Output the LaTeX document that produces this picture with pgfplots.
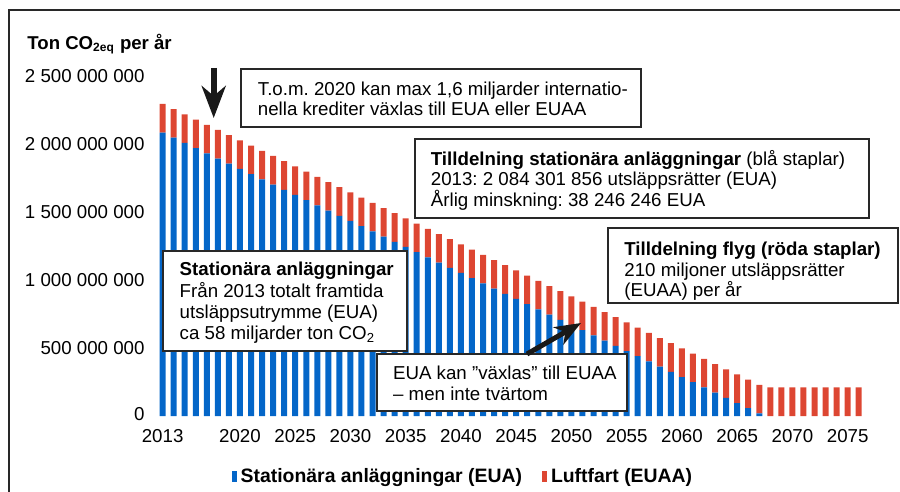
\documentclass[border=0pt]{standalone}
\usepackage{fontspec}
\setmainfont{Liberation Sans}
\usepackage{pgfplots}
\pgfplotsset{compat=1.18}
\usetikzlibrary{arrows.meta}
\definecolor{euablue}{RGB}{4,102,200}
\definecolor{euared}{RGB}{221,70,50}
\definecolor{frame}{RGB}{40,40,40}
\frenchspacing
\begin{document}
\begin{tikzpicture}[font=\fontsize{9.35}{10.35}\selectfont]
\useasboundingbox (0,0) rectangle (450pt,-246pt);
\begin{axis}[
  at={(75.78pt,-208pt)}, anchor=south west,
  scale only axis, width=359.1pt, height=170pt,
  xmin=2012, xmax=2077, ymin=0, ymax=2.5e9,
  enlargelimits=false, scaled y ticks=false,
  ybar stacked, bar width=3pt,
  axis line style={draw=none},
  major tick length=0pt,
  xtick={2013,2020,2025,2030,2035,2040,2045,2050,2055,2060,2065,2070,2075},
  xticklabels={2013,2020,2025,2030,2035,2040,2045,2050,2055,2060,2065,2070,2075},
  ytick={0,5e8,1e9,1.5e9,2e9,2.5e9},
  yticklabels={\raisebox{2.5pt}{0},500 000 000,1 000 000 000,1 500 000 000,2 000 000 000,2 500 000 000},
  xticklabel style={anchor=north, inner sep=0pt, yshift=-6.5pt},
  yticklabel style={anchor=east, inner sep=0pt, xshift=-3.3pt},
  legend style={at={(axis description cs:0.111,-0.179)}, anchor=west, draw=none, fill=none,
    inner sep=0pt, font=\fontsize{9.7}{11}\selectfont\bfseries,
    /tikz/every even column/.append style={column sep=8pt}},
  legend columns=2,
  legend image code/.code={\fill (0pt,-2.75pt) rectangle (2.5pt,2.75pt);},
]
\addplot[fill=euablue, draw=none] coordinates {
(2013,2084301856) (2014,2046055610) (2015,2007809364) (2016,1969563118)
(2017,1931316872) (2018,1893070626) (2019,1854824380) (2020,1816578134)
(2021,1778331888) (2022,1740085642) (2023,1701839396) (2024,1663593150)
(2025,1625346904) (2026,1587100658) (2027,1548854412) (2028,1510608166)
(2029,1472361920) (2030,1434115674) (2031,1395869428) (2032,1357623182)
(2033,1319376936) (2034,1281130690) (2035,1242884444) (2036,1204638198)
(2037,1166391952) (2038,1128145706) (2039,1089899460) (2040,1051653214)
(2041,1013406968) (2042,975160722) (2043,936914476) (2044,898668230)
(2045,860421984) (2046,822175738) (2047,783929492) (2048,745683246)
(2049,707437000) (2050,669190754) (2051,630944508) (2052,592698262)
(2053,554452016) (2054,516205770) (2055,477959524) (2056,439713278)
(2057,401467032) (2058,363220786) (2059,324974540) (2060,286728294)
(2061,248482048) (2062,210235802) (2063,171989556) (2064,133743310)
(2065,95497064) (2066,57250818) (2067,19004572) (2068,0)
(2069,0) (2070,0) (2071,0) (2072,0) (2073,0) (2074,0) (2075,0) (2076,0)
};
\addlegendentry{Stationära anläggningar (EUA)}
\addplot[fill=euared, draw=none] coordinates {
(2013,210000000) (2014,210000000) (2015,210000000) (2016,210000000)
(2017,210000000) (2018,210000000) (2019,210000000) (2020,210000000)
(2021,210000000) (2022,210000000) (2023,210000000) (2024,210000000)
(2025,210000000) (2026,210000000) (2027,210000000) (2028,210000000)
(2029,210000000) (2030,210000000) (2031,210000000) (2032,210000000)
(2033,210000000) (2034,210000000) (2035,210000000) (2036,210000000)
(2037,210000000) (2038,210000000) (2039,210000000) (2040,210000000)
(2041,210000000) (2042,210000000) (2043,210000000) (2044,210000000)
(2045,210000000) (2046,210000000) (2047,210000000) (2048,210000000)
(2049,210000000) (2050,210000000) (2051,210000000) (2052,210000000)
(2053,210000000) (2054,210000000) (2055,210000000) (2056,210000000)
(2057,210000000) (2058,210000000) (2059,210000000) (2060,210000000)
(2061,210000000) (2062,210000000) (2063,210000000) (2064,210000000)
(2065,210000000) (2066,210000000) (2067,210000000) (2068,210000000)
(2069,210000000) (2070,210000000) (2071,210000000) (2072,210000000)
(2073,210000000) (2074,210000000) (2075,210000000) (2076,210000000)
};
\addlegendentry{Luftfart (EUAA)}
\end{axis}
\begin{scope}[x=0.5pt, y=-0.5pt]
  % outer frame
  \draw[frame, line width=1pt] (8.5,492) -- (8.5,10.5) -- (900,10.5);
  % title
  \node[anchor=base west, inner sep=0pt, font=\fontsize{9.3}{11}\selectfont\bfseries] at (27,49.5) {Ton CO\textsubscript{\fontsize{6}{7}\selectfont 2eq} per år};
  % boxes
  \tikzset{bx/.style={draw=frame, fill=white, line width=1pt}, tx/.style={anchor=base west, inner sep=0pt}}
  \draw[bx] (241,69) rectangle (641,127);
  \node[tx] at (257.5,95.7) {T.o.m. 2020 kan max 1,6 miljarder internatio-};
  \node[tx] at (257.5,115.5) {nella krediter växlas till EUA eller EUAA};
  \draw[bx] (415,139) rectangle (869,218);
  \node[tx] at (430.5,165.7) {\textbf{Tilldelning stationära anläggningar} (blå staplar)};
  \node[tx] at (430.5,185.5) {2013: 2 084 301 856 utsläppsrätter (EUA)};
  \node[tx] at (430.5,206) {Årlig minskning: 38 246 246 EUA};
  \draw[bx] (608,228) rectangle (898,303);
  \node[tx] at (624,255.5) {\textbf{Tilldelning flyg (röda staplar)}};
  \node[tx] at (624,276) {210 miljoner utsläppsrätter};
  \node[tx] at (624,296) {(EUAA) per år};
  \draw[bx] (163,251) rectangle (407,351);
  \node[tx] at (179.3,275.7) {\textbf{Stationära anläggningar}};
  \node[tx] at (179.3,297.3) {Från 2013 totalt framtida};
  \node[tx] at (179.3,318.3) {utsläppsutrymme (EUA)};
  \node[tx] at (179.3,339.3) {ca 58 miljarder ton CO\textsubscript{2}};
  \draw[bx] (377,354) rectangle (627,411);
  \node[tx] at (392.7,379.3) {EUA kan ”växlas” till EUAA};
  \node[tx] at (392.7,400) {– men inte tvärtom};
  % arrows
  \draw[black!90, line width=3pt, -{Stealth[length=16pt, width=12pt, inset=5pt]}] (213.7,68) -- (213.7,118);
  \draw[black!90, line width=2.5pt, -{Stealth[length=13pt, width=10pt, inset=4pt]}] (527,354) -- (581,323);
\end{scope}
\end{tikzpicture}
\end{document}
